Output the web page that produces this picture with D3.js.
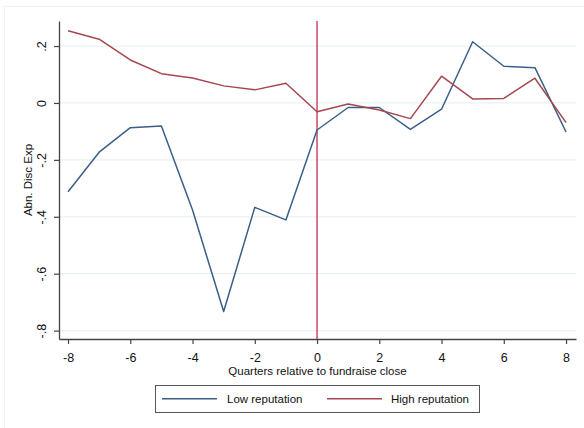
<!DOCTYPE html>
<html><head><meta charset="utf-8">
<script src="https://cdn.jsdelivr.net/npm/d3@7"></script>
<style>body{margin:0;background:#fff;} text{font-family:"Liberation Sans",Arial,sans-serif;}</style>
</head><body>
<svg id="c" width="584" height="428"></svg>
<script>
const quarters = [-8,-7,-6,-5,-4,-3,-2,-1,0,1,2,3,4,5,6,7,8];
const lowRep  = [-0.312,-0.173,-0.087,-0.081,-0.376,-0.733,-0.367,-0.411,-0.095,-0.016,-0.016,-0.093,-0.022,0.215,0.129,0.124,-0.102];
const highRep = [0.254,0.224,0.151,0.103,0.088,0.060,0.046,0.069,-0.031,-0.004,-0.025,-0.055,0.094,0.014,0.016,0.087,-0.069];
const xTicks = [-8,-6,-4,-2,0,2,4,6,8];
const xTickLabels = ["-8","-6","-4","-2","0","2","4","6","8"];
const yTicks = [0.2,0,-0.2,-0.4,-0.6,-0.8];
const yTickLabels = [".2","0","-.2","-.4","-.6","-.8"];
const seriesNames = ["Low reputation","High reputation"];
const xTitle = "Quarters relative to fundraise close";
const yTitle = "Abn. Disc Exp";

const colors = ["#3b5f86","#a5474f"];
const vColor = "#c93a5e";
const L=59, R=576, T=21, B=339;
const svg = d3.select("#c");

// faint outer frame
svg.append("rect").attr("x",4.5).attr("y",6.5).attr("width",590).attr("height",430)
  .attr("fill","none").attr("stroke","#f1f3f3").attr("stroke-width",1);

const x = d3.scaleLinear().domain([-8.29,8.32]).range([L,R]);
const y = d3.scaleLinear().domain([-0.8295,0.288]).range([B,T]);

// gridlines
svg.append("g").selectAll("line").data(yTicks).join("line")
  .attr("x1",L).attr("x2",R).attr("y1",d=>y(d)).attr("y2",d=>y(d))
  .attr("stroke","#eaf1f2").attr("stroke-width",1.3);

// y axis
const ya = svg.append("g").attr("transform",`translate(${L},0)`)
  .call(d3.axisLeft(y).tickValues(yTicks).tickSize(5).tickSizeOuter(0).tickFormat((d,i)=>yTickLabels[i]));
ya.select(".domain").attr("stroke","#444").attr("stroke-width",1.3);
ya.selectAll(".tick line").attr("stroke","#444").attr("stroke-width",1.2);
ya.selectAll(".tick text").attr("font-size",12.5).attr("fill","#111")
  .attr("transform","rotate(-90)").attr("x",0).attr("y",-13).attr("dy",0)
  .attr("text-anchor","middle");

// x axis
const xa = svg.append("g").attr("transform",`translate(0,${B})`)
  .call(d3.axisBottom(x).tickValues(xTicks).tickSize(5).tickSizeOuter(0).tickFormat((d,i)=>xTickLabels[i]));
xa.select(".domain").attr("stroke","#444").attr("stroke-width",1.3);
xa.selectAll(".tick line").attr("stroke","#444").attr("stroke-width",1.2);
xa.selectAll(".tick text").attr("font-size",12.5).attr("fill","#111").attr("y",23).attr("dy",0);

// vertical line at 0
svg.append("line").attr("x1",x(0)).attr("x2",x(0)).attr("y1",T).attr("y2",B)
  .attr("stroke",vColor).attr("stroke-width",1.4);

// series
const line = d3.line().x((d,i)=>x(quarters[i])).y(d=>y(d));
[lowRep,highRep].forEach((s,k)=>{
  svg.append("path").datum(s).attr("d",line).attr("fill","none")
    .attr("stroke",colors[k]).attr("stroke-width",1.5).attr("stroke-linejoin","round");
});

// titles
svg.append("text").attr("x",(L+R)/2).attr("y",375).attr("text-anchor","middle")
  .attr("font-size",11.5).attr("fill","#111").text(xTitle);
svg.append("text").attr("transform",`translate(32,${(T+B)/2}) rotate(-90)`)
  .attr("text-anchor","middle").attr("font-size",11.5).attr("fill","#111").text(yTitle);

// legend
svg.append("rect").attr("x",155.5).attr("y",385.5).attr("width",324).attr("height",27)
  .attr("fill","#fff").attr("stroke","#555").attr("stroke-width",1);
const legX = [[162,217,227],[327,382,391]];
seriesNames.forEach((n,k)=>{
  svg.append("line").attr("x1",legX[k][0]).attr("x2",legX[k][1]).attr("y1",398.7).attr("y2",398.7)
    .attr("stroke",colors[k]).attr("stroke-width",1.5);
  svg.append("text").attr("x",legX[k][2]).attr("y",402.8).attr("font-size",11.5).attr("fill","#111").text(n);
});
</script>
</body></html>
